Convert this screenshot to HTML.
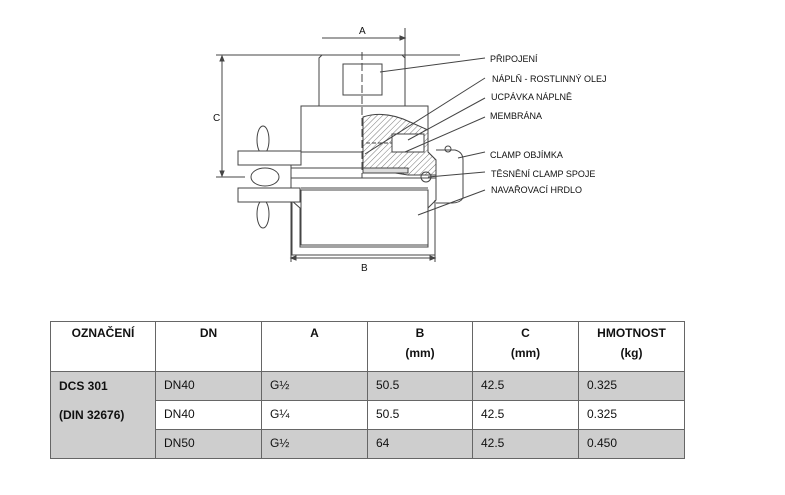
<!DOCTYPE html>
<html><head><meta charset="utf-8"><style>
html,body{margin:0;padding:0;background:#fff;width:785px;height:495px;overflow:hidden;position:relative}
svg{position:absolute;left:0;top:0}
.lbl{font-family:"Liberation Sans",sans-serif;font-size:9px;fill:#111}
table{position:absolute;left:50px;top:321px;width:634px;table-layout:fixed;border-collapse:collapse;font-family:"Liberation Sans",sans-serif;font-size:12px;color:#111}
td{border:1.5px solid #666;padding:0 0 0 8px;vertical-align:top;height:29px;line-height:26px;box-sizing:border-box}
th{border:1.5px solid #666;font-weight:bold;vertical-align:top;height:50px;font-size:12px;line-height:20px;padding:1px 0 0 0;box-sizing:border-box}
.g{background:#cecece}
</style></head><body>
<svg width="785" height="300" viewBox="0 0 785 300">
<defs><pattern id="h" width="4" height="4" patternUnits="userSpaceOnUse" patternTransform="rotate(45)"><rect width="4" height="4" fill="#fff"/><line x1="0" y1="0" x2="0" y2="4" stroke="#555" stroke-width="0.8"/></pattern></defs>
<g fill="none" stroke="#444" stroke-width="1">
<line x1="322" y1="38" x2="405" y2="38"/><line x1="405" y1="28" x2="405" y2="106"/>
<path d="M400 36 L405 38 L400 40Z" fill="#444"/>
<line x1="216" y1="55" x2="460" y2="55"/>
<line x1="222" y1="56" x2="222" y2="176"/>
<path d="M220 61 L222 56 L224 61Z M220 171 L222 176 L224 171Z" fill="#444"/>
<line x1="216" y1="177" x2="245" y2="177"/>
<line x1="291" y1="258" x2="435" y2="258"/>
<line x1="291" y1="200" x2="291" y2="262"/><line x1="435" y1="200" x2="435" y2="262"/>
<path d="M296 256 L291 258 L296 260Z M430 256 L435 258 L430 260Z" fill="#444"/>
<path d="M319 106 L319 58 L322 55 L402 55 L405 58 L405 106"/>
<rect x="343" y="64" width="39" height="31"/>
<line x1="362" y1="52" x2="362" y2="178" stroke-dasharray="8,3"/>
<path d="M301 152 L301 106 L428 106 L428 152"/>
<path d="M301 152 L291 160 L291 200 L300 208 L300 247 L428 247 L428 208 L436 200 L436 160 L428 152"/>
<path d="M292 200 L292 255 L435 255 L435 200"/>
<line x1="301" y1="152" x2="428" y2="152"/>
<line x1="291" y1="168" x2="436" y2="168"/>
<line x1="291" y1="178" x2="436" y2="178"/>
<line x1="301" y1="188" x2="428" y2="188"/>
<rect x="301" y="190" width="127" height="55"/>
<path d="M363 117 Q385 110 410 122 L428 130 L428 152 L436 160 L436 175 L408 175 L363 168Z" fill="url(#h)"/>
<rect x="392" y="134" width="32" height="18" fill="#fff"/>
<line x1="366" y1="143" x2="392" y2="143" stroke-dasharray="4,2"/>
<rect x="363" y="168" width="45" height="5" fill="#ddd"/>
<circle cx="426" cy="177" r="5"/>
<ellipse cx="263" cy="140" rx="6" ry="14"/>
<ellipse cx="263" cy="214" rx="6" ry="14"/>
<rect x="238" y="151" width="63" height="14" fill="#fff"/>
<rect x="238" y="188" width="62" height="14" fill="#fff"/>
<ellipse cx="265" cy="177" rx="14" ry="9"/>
<path d="M436 150 L455 150 Q463 152 463 160 L463 198 Q460 203 452 203 L436 203"/>
<circle cx="448" cy="149" r="3"/>
<line x1="380" y1="72" x2="485" y2="58"/>
<line x1="365" y1="154" x2="485" y2="78"/>
<line x1="408" y1="140" x2="485" y2="98"/>
<line x1="405" y1="152" x2="485" y2="117"/>
<line x1="458" y1="158" x2="485" y2="152"/>
<line x1="428" y1="177" x2="485" y2="172"/>
<line x1="418" y1="215" x2="485" y2="190"/>
</g>
<text class="lbl" x="359" y="34" style="font-size:10px">A</text>
<text class="lbl" x="213" y="121" style="font-size:10px">C</text>
<text class="lbl" x="361" y="271" style="font-size:10px">B</text>
<text class="lbl" x="490" y="62">PŘIPOJENÍ</text>
<text class="lbl" x="492" y="82">NÁPLŇ - ROSTLINNÝ OLEJ</text>
<text class="lbl" x="491" y="100">UCPÁVKA NÁPLNĚ</text>
<text class="lbl" x="490" y="119">MEMBRÁNA</text>
<text class="lbl" x="490" y="158">CLAMP OBJÍMKA</text>
<text class="lbl" x="491" y="177">TĚSNĚNÍ CLAMP SPOJE</text>
<text class="lbl" x="491" y="193">NAVAŘOVACÍ HRDLO</text>
</svg>
<table>
<colgroup><col style="width:105px"><col style="width:106px"><col style="width:106px"><col style="width:105px"><col style="width:106px"><col style="width:106px"></colgroup>
<tr><th>OZNAČENÍ</th><th>DN</th><th>A</th><th>B<br>(mm)</th><th>C<br>(mm)</th><th>HMOTNOST<br>(kg)</th></tr>
<tr class="g"><td rowspan="3" style="font-weight:bold;line-height:29px;padding-top:0">DCS 301<br>(DIN 32676)</td><td>DN40</td><td>G½</td><td>50.5</td><td>42.5</td><td>0.325</td></tr>
<tr><td>DN40</td><td>G¼</td><td>50.5</td><td>42.5</td><td>0.325</td></tr>
<tr class="g"><td>DN50</td><td>G½</td><td>64</td><td>42.5</td><td>0.450</td></tr>
</table>
</body></html>
